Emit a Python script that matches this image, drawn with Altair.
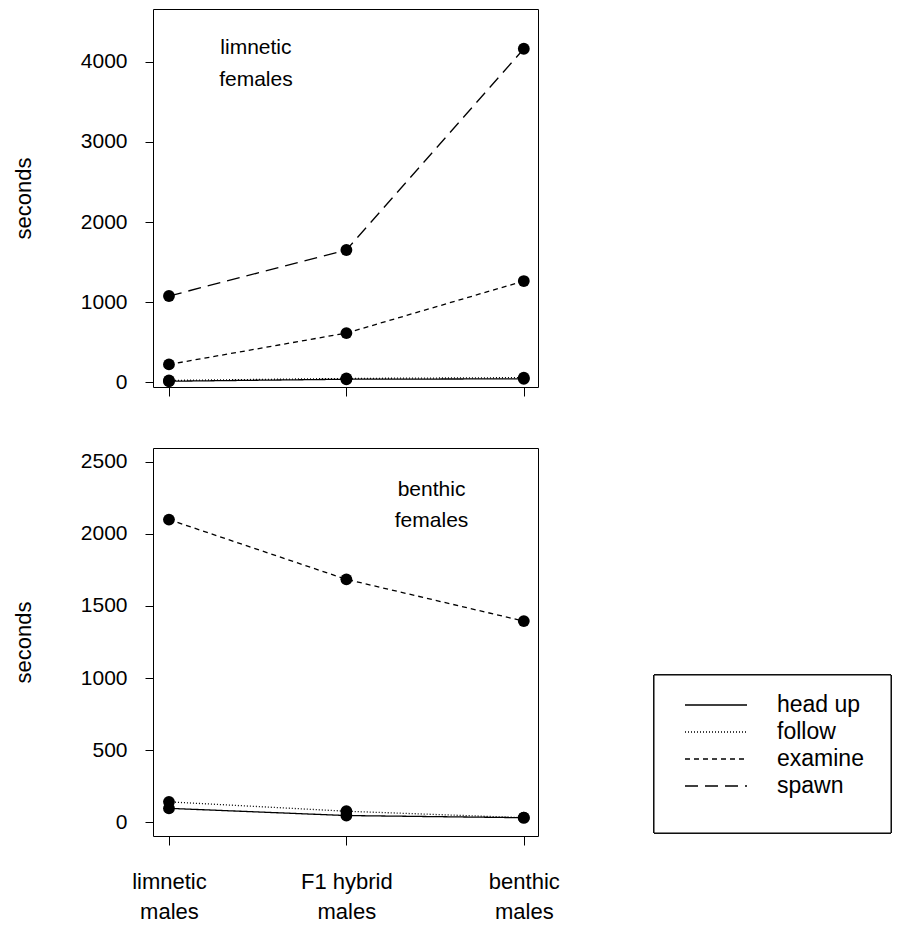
import json
import altair as alt
import pandas as pd

FONT = "Liberation Sans"

# x categories (male type), drawn as two-line tick labels
group_lines = [["limnetic", "males"], ["F1 hybrid", "males"], ["benthic", "males"]]
group_pos = [0, 1, 2]

behaviors = ["head up", "follow", "examine", "spawn"]
dashes = [[1, 0], [1, 2], [5, 4], [13, 7]]

# limnetic females (top panel), seconds
lim_head_up = [10, 35, 40]
lim_follow = [20, 45, 55]
lim_examine = [220, 612, 1262]
lim_spawn = [1075, 1650, 4165]

# benthic females (bottom panel), seconds
ben_head_up = [95, 45, 30]
ben_follow = [140, 75, 30]
ben_examine = [2100, 1685, 1395]

top_ticks = [0, 1000, 2000, 3000, 4000]
bot_ticks = [0, 500, 1000, 1500, 2000, 2500]

top_label = {"text": ["limnetic", "females"], "pos": [0.49, 0.49], "value": [4180, 3770]}
bot_label = {"text": ["benthic", "females"], "pos": [1.48, 1.48], "value": [2305, 2090]}


def frame(series):
    rows = []
    for name, vals in series.items():
        for p, v in zip(group_pos, vals):
            rows.append({"behavior": name, "pos": p, "value": v})
    return pd.DataFrame(rows)


df_top = frame({"head up": lim_head_up, "follow": lim_follow,
                "examine": lim_examine, "spawn": lim_spawn})
df_bot = frame({"head up": ben_head_up, "follow": ben_follow,
                "examine": ben_examine})
df_leg = pd.DataFrame({"behavior": behaviors})

label_expr = json.dumps(group_lines) + "[datum.value]"
dash_scale = alt.Scale(domain=behaviors, range=dashes)


def panel(df, text, ydomain, yticks, show_x_labels):
    xaxis = alt.Axis(
        values=group_pos, title=None, domain=False, grid=False,
        tickSize=9, tickColor="black", tickWidth=1,
        labels=show_x_labels, labelExpr=label_expr, labelFont=FONT,
        labelFontSize=22, labelColor="black", labelPadding=26,
        labelLineHeight=30,
    )
    yaxis = alt.Axis(
        values=yticks, title="seconds", domain=False, grid=False,
        tickSize=8, tickColor="black", tickWidth=1, format="d",
        labelFont=FONT, labelFontSize=21, labelColor="black", labelPadding=18,
        titleFont=FONT, titleFontSize=22, titleFontWeight="normal",
        titleColor="black", titlePadding=45,
    )
    x = alt.X("pos:Q", scale=alt.Scale(domain=[-0.09, 2.08], nice=False, zero=False), axis=xaxis)
    y = alt.Y("value:Q", scale=alt.Scale(domain=ydomain, nice=False, zero=False), axis=yaxis)
    base = alt.Chart(df)
    lines = base.mark_line(color="black", strokeWidth=1.3).encode(
        x=x, y=y,
        strokeDash=alt.StrokeDash("behavior:N", scale=dash_scale, legend=None),
    )
    pts = base.mark_circle(color="black", size=140, opacity=1).encode(
        x="pos:Q", y="value:Q", detail="behavior:N")
    txt = alt.Chart(pd.DataFrame(text)).mark_text(
        font=FONT, fontSize=21, color="black", align="center", baseline="middle"
    ).encode(x="pos:Q", y="value:Q", text="text:N")
    return alt.layer(lines, pts, txt)


top = panel(df_top, top_label, [-62, 4662], top_ticks, False).properties(
    width=385, height=378)

# legend drawn beside the bottom panel (pixel offsets relative to its plot area)
leg_y = alt.Y("behavior:N", scale=alt.Scale(type="point", domain=behaviors,
                                            range=[257, 338], padding=0), axis=None)
leg_box = alt.Chart(df_leg).mark_rect(fill="white", stroke="black", strokeWidth=1).encode(
    x=alt.value(501), x2=alt.value(738), y=alt.value(227), y2=alt.value(385))
leg_lines = alt.Chart(df_leg).mark_rule(color="black", strokeWidth=1.3).encode(
    x=alt.value(532), x2=alt.value(594), y=leg_y,
    strokeDash=alt.StrokeDash("behavior:N", scale=dash_scale, legend=None))
leg_text = alt.Chart(df_leg).mark_text(
    font=FONT, fontSize=23, color="black", align="left", baseline="middle"
).encode(x=alt.value(624), y=leg_y, text="behavior:N")
legend_layer = alt.layer(leg_box, leg_lines, leg_text)

bottom = (
    alt.layer(panel(df_bot, bot_label, [-97, 2597], bot_ticks, True), legend_layer)
    .resolve_scale(y="independent")
    .properties(width=385, height=388)
)

chart = (
    alt.vconcat(top, bottom, spacing=50)
    .resolve_scale(x="independent", y="independent")
    .properties(padding={"left": 3, "top": 0, "right": 0, "bottom": 0}, background="white")
    .configure_view(stroke="black", strokeWidth=1)
)

chart.save("out.html", embed_options={"renderer": "svg", "actions": False})
